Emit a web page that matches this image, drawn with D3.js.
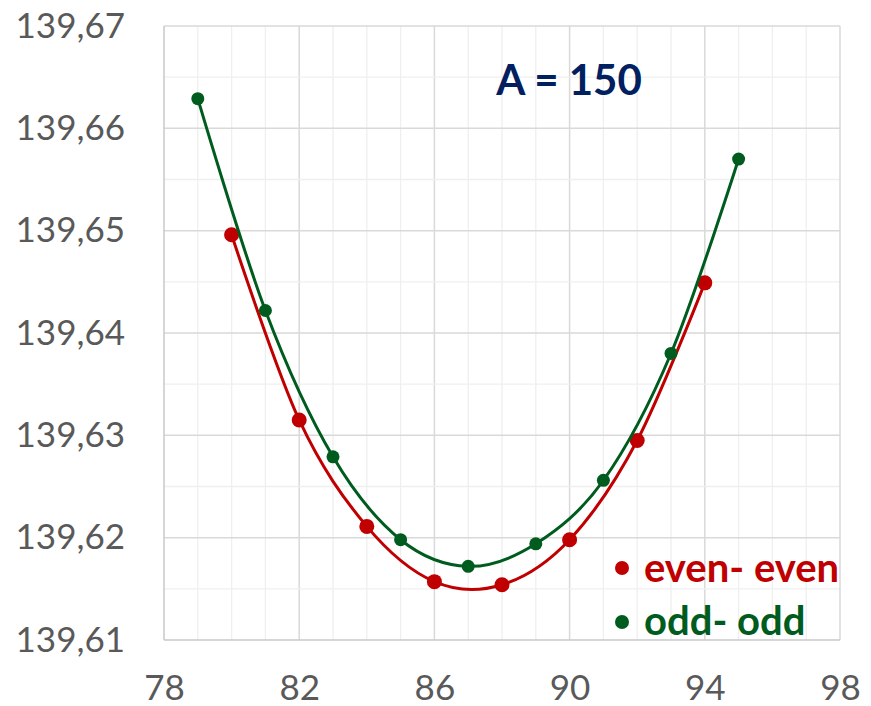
<!DOCTYPE html>
<html>
<head>
<meta charset="utf-8">
<script src="https://cdn.jsdelivr.net/npm/d3@7"></script>
<style>
  html, body { margin: 0; padding: 0; background: #fff; }
  svg { display: block; }
</style>
</head>
<body>
<svg id="chart" width="871" height="706"></svg>
<script>
// Mass numbers and values for the two nucleus groups
const evenX = [80, 82, 84, 86, 88, 90, 92, 94];
const evenY = [139.6496, 139.6315, 139.6211, 139.6157, 139.6154, 139.6198, 139.6295, 139.6449];
const oddX  = [79, 81, 83, 85, 87, 89, 91, 93, 95];
const oddY  = [139.6629, 139.6422, 139.6279, 139.6198, 139.6172, 139.6194, 139.6256, 139.6380, 139.6570];

const xTicks = [78, 82, 86, 90, 94, 98];
const yTicks = [139.61, 139.62, 139.63, 139.64, 139.65, 139.66, 139.67];
const seriesNames = ["even- even", "odd- odd"];
const titleText = "A = 150";

const colors = { even: "#c00000", odd: "#005c1e" };

const svg = d3.select("#chart");
const plot = { left: 164, right: 840, top: 26, bottom: 640 };

const x = d3.scaleLinear().domain([78, 98]).range([plot.left, plot.right]);
const y = d3.scaleLinear().domain([139.61, 139.67]).range([plot.bottom, plot.top]);

const locale = d3.formatLocale({ decimal: ",", thousands: " ", grouping: [3], currency: ["", ""] });
const fmtY = locale.format(".2f");

// Gridlines: minor every 1 on x and 0.005 on y, major at the labelled ticks
const grid = svg.append("g");
d3.range(79, 98).forEach(v => {
  const major = xTicks.includes(v);
  grid.append("line")
    .attr("x1", x(v)).attr("x2", x(v))
    .attr("y1", plot.top).attr("y2", plot.bottom)
    .attr("stroke", major ? "#d9d9d9" : "#efefef")
    .attr("stroke-width", major ? 1.5 : 1.3);
});
d3.range(1, 12).forEach(i => {
  const v = 139.61 + i * 0.005;
  const major = i % 2 === 0;
  grid.append("line")
    .attr("x1", plot.left).attr("x2", plot.right)
    .attr("y1", y(v)).attr("y2", y(v))
    .attr("stroke", major ? "#d9d9d9" : "#efefef")
    .attr("stroke-width", major ? 1.5 : 1.3);
});
// Plot frame
grid.append("line").attr("x1", plot.left).attr("x2", plot.right)
  .attr("y1", plot.top).attr("y2", plot.top).attr("stroke", "#d9d9d9").attr("stroke-width", 1.5);
grid.append("line").attr("x1", plot.right).attr("x2", plot.right)
  .attr("y1", plot.top).attr("y2", plot.bottom).attr("stroke", "#d9d9d9").attr("stroke-width", 1.5);
grid.append("line").attr("x1", plot.left).attr("x2", plot.left)
  .attr("y1", plot.top).attr("y2", plot.bottom).attr("stroke", "#c8c8c8").attr("stroke-width", 1.5);
grid.append("line").attr("x1", plot.left).attr("x2", plot.right)
  .attr("y1", plot.bottom).attr("y2", plot.bottom).attr("stroke", "#c8c8c8").attr("stroke-width", 1.5);

// Axes (labels only)
const yAxis = svg.append("g")
  .attr("transform", `translate(${plot.left},0)`)
  .call(d3.axisLeft(y).tickValues(yTicks).tickFormat(fmtY).tickSize(0).tickPadding(39));
const xAxis = svg.append("g")
  .attr("transform", `translate(0,${plot.bottom})`)
  .call(d3.axisBottom(x).tickValues(xTicks).tickFormat(d3.format("d")).tickSize(0).tickPadding(35));
[yAxis, xAxis].forEach(a => {
  a.select(".domain").remove();
  a.selectAll("text")
    .attr("fill", "#595959")
    .style("font-family", "Lato, 'Open Sans', sans-serif")
    .style("font-size", "35px");
});

// Smoothed series lines with markers
const line = d3.line()
  .x(d => x(d[0])).y(d => y(d[1]))
  .curve(d3.curveCardinal.tension(0));

function drawSeries(xs, ys, color, r) {
  const pts = xs.map((v, i) => [v, ys[i]]);
  svg.append("path")
    .datum(pts)
    .attr("d", line)
    .attr("fill", "none")
    .attr("stroke", color)
    .attr("stroke-width", 3);
  svg.append("g").selectAll("circle")
    .data(pts).join("circle")
    .attr("cx", d => x(d[0])).attr("cy", d => y(d[1]))
    .attr("r", r).attr("fill", color);
}
drawSeries(evenX, evenY, colors.even, 7.5);
drawSeries(oddX, oddY, colors.odd, 6.5);

// Title
svg.append("text")
  .attr("x", 569).attr("y", 95)
  .attr("text-anchor", "middle")
  .attr("fill", "#002060")
  .style("font-family", "Lato, 'Open Sans', sans-serif")
  .style("font-weight", "bold")
  .style("font-size", "42px")
  .text(titleText);

// Legend
const legend = svg.append("g");
[[colors.even, 568, 582], [colors.odd, 622, 635]].forEach(([c, cy, by], i) => {
  legend.append("circle").attr("cx", 622).attr("cy", cy).attr("r", 7).attr("fill", c);
  legend.append("text")
    .attr("x", 644).attr("y", by)
    .attr("fill", c)
    .style("font-family", "Lato, 'Open Sans', sans-serif")
    .style("font-weight", "bold")
    .style("font-size", "40px")
    .text(seriesNames[i]);
});
</script>
</body>
</html>
